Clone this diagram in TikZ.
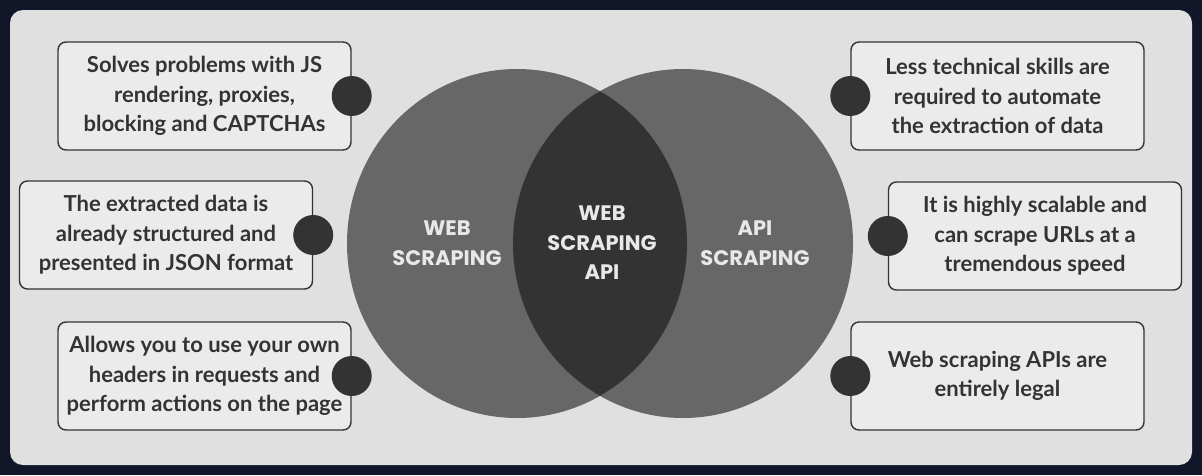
\documentclass[tikz,border=0pt]{standalone}
\usepackage{fontspec}
\setmainfont{Lato}
\newfontfamily\rotfont{Poppins}
\usepackage{tikz}
\definecolor{fondo}{RGB}{17,22,40}
\definecolor{panel}{RGB}{224,224,224}
\definecolor{cajafill}{RGB}{235,235,235}
\definecolor{tinta}{RGB}{51,51,51}
\definecolor{gris}{RGB}{103,103,103}
\definecolor{oscuro}{RGB}{51,51,51}
\definecolor{claro}{RGB}{232,232,232}
\tikzset{
  caja/.style={rectangle, rounded corners=8pt, draw=tinta, fill=cajafill,
    line width=1.4pt, minimum width=293pt, minimum height=108pt,
    inner sep=0pt, align=center, text=tinta,
    font=\fontsize{22}{29.5}\selectfont\bfseries},
  punto/.style={circle, fill=oscuro, minimum size=40pt, inner sep=0pt},
  rotulo/.style={align=center, text=claro,
    font=\rotfont\fontsize{21}{29.5}\selectfont\bfseries}
}

\begin{document}
\begin{tikzpicture}[x=1pt, y=-1pt]
  \useasboundingbox (0,0) rectangle (1202,475);
  \fill[fondo] (0,0) rectangle (1202,475);
  \fill[panel, rounded corners=13pt] (10,10) rectangle (1192,465);
  % circulos
  \fill[gris] (517,243.5) ellipse [x radius=170pt, y radius=174.5pt];
  \fill[gris] (683,243.5) ellipse [x radius=170pt, y radius=174.5pt];
  \begin{scope}
    \clip (517,243.5) ellipse [x radius=170pt, y radius=174.5pt];
    \fill[oscuro] (683,243.5) ellipse [x radius=170pt, y radius=174.5pt];
  \end{scope}
  \node[rotulo] (web) at (447,243) {WEB\\SCRAPING};
  \node[rotulo] (wsapi) at (602,243) {WEB\\SCRAPING\\API};
  \node[rotulo] (api) at (755,243) {API\\SCRAPING};
  % cajas izquierda
  \node[caja] (l1) at (204.5,96) {Solves problems with JS\\rendering, proxies,\\blocking and CAPTCHAs};
  \node[caja] (l2) at (166,235) {The extracted data is\\already structured and\\presented in JSON format};
  \node[caja] (l3) at (204.5,376) {Allows you to use your own\\headers in requests and\\perform actions on the page};
  % cajas derecha
  \node[caja] (r1) at (997.5,96) {Less technical skills are\\required to automate\\the extraction of data};
  \node[caja] (r2) at (1035,236) {It is highly scalable and\\can scrape URLs at a\\tremendous speed};
  \node[caja] (r3) at (997.5,376) {Web scraping APIs are\\entirely legal};
  % puntos
  \node[punto] (pl1) at (l1.east) {};
  \node[punto] (pl2) at (l2.east) {};
  \node[punto] (pl3) at (l3.east) {};
  \node[punto] (pr1) at (r1.west) {};
  \node[punto] (pr2) at (r2.west) {};
  \node[punto] (pr3) at (r3.west) {};
\end{tikzpicture}
\end{document}
